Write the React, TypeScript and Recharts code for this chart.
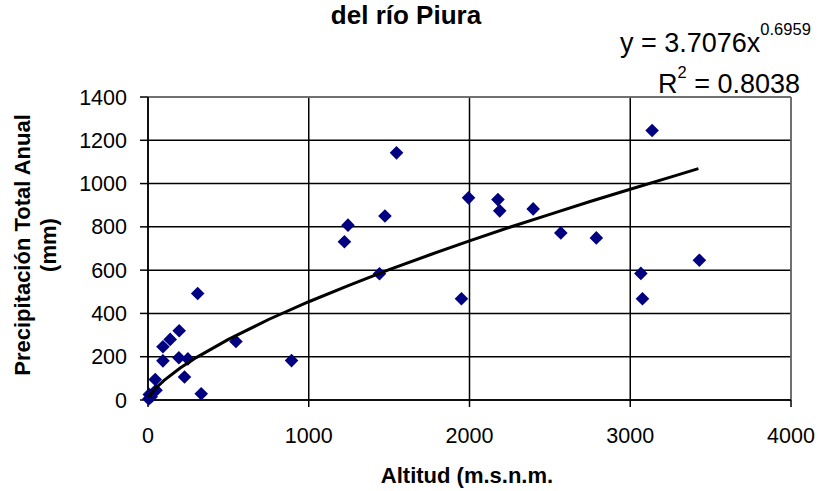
import React from "react";
import {
  CartesianGrid,
  ReferenceLine,
  Scatter,
  ScatterChart,
  XAxis,
  YAxis,
} from "recharts";

// Altitud (m.s.n.m.) de cada estación
const altitude = [
  5, 8, 20, 45, 50, 93, 93, 138, 194, 192, 248, 227, 331, 309, 547, 893,
  1222, 1244, 1440, 1474, 1546, 1950, 1994, 2177, 2188, 2396, 2568, 2789,
  3066, 3076, 3136, 3430,
];

// Precipitación total anual (mm)
const precipitation = [
  5, 25, 15, 95, 45, 181, 246, 280, 320, 195, 190, 106, 29, 492, 270, 182,
  731, 808, 583, 850, 1142, 468, 934, 926, 874, 883, 772, 749,
  585, 468, 1245, 646,
];

// línea de tendencia potencial
const trendX = [
  5, 25, 50, 100, 200, 300, 500, 750, 1000, 1250, 1500, 1750, 2000, 2250,
  2500, 2750, 3000, 3250, 3424,
];
const trendY = [
  12, 35, 56, 91, 148, 196, 280, 372, 454, 530, 602, 670, 735, 798, 858,
  917, 974, 1030, 1069,
];

const xTicks = [0, 1000, 2000, 3000, 4000];
const yTicks = [0, 200, 400, 600, 800, 1000, 1200, 1400];

const points = altitude.map((x, i) => ({ x, y: precipitation[i] }));
const trend = trendX.map((x, i) => ({ x, y: trendY[i] }));

const FONT = '"Liberation Sans", Arial, sans-serif';

const Diamond = (props: any) => {
  const { cx, cy } = props;
  const r = 6.8;
  return (
    <path
      d={`M${cx},${cy - r}L${cx + r},${cy}L${cx},${cy + r}L${cx - r},${cy}Z`}
      fill="#000080"
    />
  );
};

export default function App() {
  return (
    <div style={{ position: "relative", width: 832, height: 491, background: "#fff" }}>
      <style>{`body{margin:0}`}</style>
      <ScatterChart
        width={832}
        height={491}
        margin={{ top: 97, right: 41, bottom: 61, left: 88 }}
      >
        <CartesianGrid stroke="#000" strokeWidth={1.5} />
        <XAxis
          type="number"
          dataKey="x"
          domain={[0, 4000]}
          ticks={xTicks}
          interval={0}
          height={30}
          stroke="#000"
          strokeWidth={1.5}
          tickSize={7}
          tickMargin={21}
          tick={{ fill: "#000", fontSize: 21.5, fontFamily: FONT }}
        />
        <YAxis
          type="number"
          dataKey="y"
          domain={[0, 1400]}
          ticks={yTicks}
          interval={0}
          width={60}
          stroke="#000"
          strokeWidth={1.5}
          tickSize={8}
          tickMargin={13}
          tick={{ fill: "#000", fontSize: 21.5, fontFamily: FONT }}
        />
        <ReferenceLine y={1400} stroke="#808080" strokeWidth={1.5} />
        <ReferenceLine x={4000} stroke="#808080" strokeWidth={1.5} />
        <Scatter data={points} shape={Diamond} isAnimationActive={false} />
        <Scatter
          data={trend}
          line={{ stroke: "#000", strokeWidth: 3 }}
          shape={() => <g />}
          isAnimationActive={false}
        />
      </ScatterChart>
      <svg
        width={832}
        height={491}
        style={{ position: "absolute", left: 0, top: 0, pointerEvents: "none" }}
        fontFamily={FONT}
      >
        <text x={406} y={24} textAnchor="middle" fontSize={26} fontWeight="bold">
          del río Piura
        </text>
        <text x={620} y={52} fontSize={27}>
          y = 3.7076x
          <tspan dy={-17} fontSize={16.5}>
            0.6959
          </tspan>
        </text>
        <text x={800} y={93} textAnchor="end" fontSize={27}>
          R
          <tspan dy={-15} fontSize={16.5}>
            2
          </tspan>
          <tspan dy={15}> = 0.8038</tspan>
        </text>
        <text x={467} y={483} textAnchor="middle" fontSize={22} fontWeight="bold">
          Altitud (m.s.n.m.
        </text>
        <g transform="translate(0,245) rotate(-90)" fontSize={22} fontWeight="bold">
          <text x={0} y={30} textAnchor="middle">
            Precipitación Total Anual
          </text>
          <text x={0} y={56} textAnchor="middle">
            (mm)
          </text>
        </g>
      </svg>
    </div>
  );
}
